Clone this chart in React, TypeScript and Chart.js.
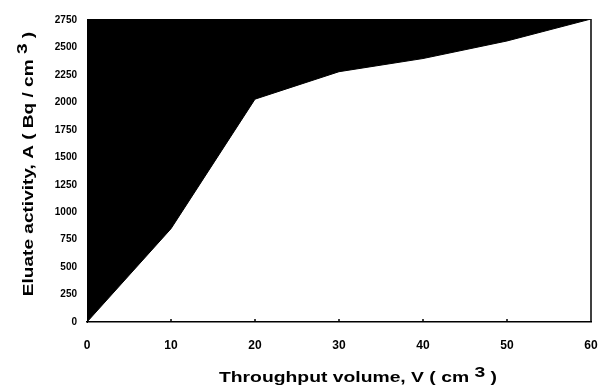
import React, { useEffect, useRef } from "react";
import { Chart, registerables } from "chart.js";

Chart.register(...registerables);

const volumes = [0, 10, 20, 30, 40, 50, 60];
const activity = [0, 850, 2030, 2280, 2400, 2560, 2760];
const xTicks = [0, 10, 20, 30, 40, 50, 60];
const yTicks = [0, 250, 500, 750, 1000, 1250, 1500, 1750, 2000, 2250, 2500, 2750];
const xTitle = "Throughput volume, V ( cm ";
const yTitle = "Eluate activity, A ( Bq / cm ";
const sup = "3";

const FONT = "'Liberation Sans', Arial, sans-serif";

function drawTitle(ctx: any, main: string, size: number, stretch: number, supRaise: number) {
  ctx.font = `bold ${size}px ${FONT}`;
  const w1 = ctx.measureText(main).width;
  const ws = ctx.measureText(sup).width;
  const w2 = ctx.measureText(" )").width;
  const total = w1 + ws + w2;
  ctx.scale(stretch, 1);
  const x0 = -total / 2;
  ctx.fillText(main, x0, 0);
  ctx.fillText(sup, x0 + w1, -supRaise);
  ctx.fillText(" )", x0 + w1 + ws, 0);
}

const decorPlugin = {
  id: "decor",
  afterDraw(chart: any) {
    const ctx = chart.ctx;
    const area = chart.chartArea;
    const xs = chart.scales.x;
    ctx.save();
    ctx.strokeStyle = "#000";
    ctx.lineWidth = 1.5;
    ctx.beginPath();
    ctx.moveTo(area.right, area.top);
    ctx.lineTo(area.right, area.bottom);
    ctx.stroke();
    for (const v of xTicks.slice(1, -1)) {
      const px = xs.getPixelForValue(v);
      ctx.beginPath();
      ctx.moveTo(px, area.bottom);
      ctx.lineTo(px, area.bottom - 3);
      ctx.stroke();
    }
    ctx.fillStyle = "#000";
    ctx.textBaseline = "alphabetic";
    ctx.textAlign = "left";
    ctx.save();
    ctx.translate(358, 382);
    drawTitle(ctx, xTitle, 14, 1.38, 5);
    ctx.restore();
    ctx.save();
    ctx.translate(33, 164);
    ctx.rotate(-Math.PI / 2);
    drawTitle(ctx, yTitle, 15, 1.27, 6);
    ctx.restore();
    ctx.restore();
  },
};

export default function App() {
  const ref = useRef<HTMLCanvasElement>(null);
  useEffect(() => {
    if (!ref.current) return;
    const chart = new Chart(ref.current, {
      type: "line",
      data: {
        datasets: [
          {
            data: volumes.map((v, i) => ({ x: v, y: activity[i] })),
            borderColor: "#000",
            backgroundColor: "#000",
            borderWidth: 1,
            pointRadius: 0,
            tension: 0,
            fill: "end",
          },
        ],
      },
      options: {
        animation: false,
        responsive: false,
        maintainAspectRatio: false,
        layout: { padding: { top: 19, right: 9, left: 0, bottom: 0 } },
        plugins: { legend: { display: false }, tooltip: { enabled: false } },
        scales: {
          x: {
            type: "linear",
            min: 0,
            max: 60,
            afterBuildTicks: (s: any) => {
              s.ticks = xTicks.map((v) => ({ value: v }));
            },
            afterFit: (s: any) => {
              s.height = 67;
              s.paddingLeft = 0;
              s.paddingRight = 0;
            },
            grid: { display: false },
            border: { display: true, color: "#000", width: 1.5 },
            ticks: {
              color: "#000",
              font: { family: FONT, size: 12, weight: "bold" },
              padding: 8,
              maxRotation: 0,
              callback: (v: any) => String(v),
            },
          },
          y: {
            type: "linear",
            min: 0,
            max: 2760,
            afterBuildTicks: (s: any) => {
              s.ticks = yTicks.map((v) => ({ value: v }));
            },
            afterFit: (s: any) => {
              s.width = 87;
              s.paddingTop = 0;
              s.paddingBottom = 0;
            },
            grid: { display: false },
            border: { display: true, color: "#000", width: 1 },
            ticks: {
              color: "#000",
              font: { family: FONT, size: 10, weight: "bold" },
              padding: 2,
              callback: (v: any) => String(v),
            },
          },
        },
      },
      plugins: [decorPlugin],
    } as any);
    return () => chart.destroy();
  }, []);
  return (
    <div style={{ position: "fixed", left: 0, top: 0, width: 600, height: 389, background: "#fff" }}>
      <canvas ref={ref} width={600} height={389} style={{ width: 600, height: 389 }} />
    </div>
  );
}
